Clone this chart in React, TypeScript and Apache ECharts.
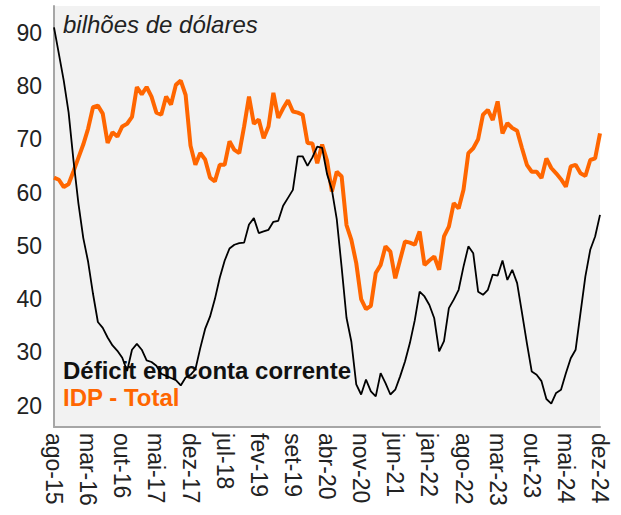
import React, { useEffect, useRef } from "react";
import * as echarts from "echarts";

const monthNames = ["jan", "fev", "mar", "abr", "mai", "jun", "jul", "ago", "set", "out", "nov", "dez"];
const startYear = 2015;
const startMonth = 7; // ago
const monthCount = 113; // ago-15 .. dez-24

const categories: string[] = [];
for (let k = 0; k < monthCount; k++) {
  const m = (startMonth + k) % 12;
  const y = startYear + Math.floor((startMonth + k) / 12);
  categories.push(`${monthNames[m]}-${String(y).slice(2)}`);
}

const deficitConta = [
  91, 86, 81, 75, 66, 58, 51.5, 47, 41, 35.7,
  34.6, 32.8, 31.3, 30.3, 29, 26.5, 30.5, 31.6, 30.5, 28.5,
  28.2, 27.5, 26, 25.6, 25.2, 24.8, 23.8, 25.3, 25.8, 26.8,
  30.8, 34.4, 36.7, 40, 44, 47.2, 49.5, 50.2, 50.5, 50.6,
  54, 55.2, 52.4, 52.7, 53, 54.5, 54.7, 57.5, 59, 60.5,
  66.8, 66.8, 65, 66.6, 68.6, 68.4, 63.5, 60.5, 55, 46,
  36.5, 32, 24, 22.1, 24.9, 22.7, 21.75, 26.1, 24.25, 22.1,
  23, 25.5, 28.3, 31.75, 36, 41.4, 40.5, 38.9, 36.4, 30.2,
  32.1, 38.3, 39.9, 41.75, 46.1, 49.9, 48.6, 41.4, 40.8, 41.75,
  44.6, 44.4, 47.25, 43.6, 45.5, 43, 37.4, 31.75, 26.4, 25.8,
  24.6, 21.25, 20.4, 22.4, 23, 26.1, 28.9, 30.5, 37.4, 44.25,
  49.25, 51.75, 55.8,
];

const idpTotal = [
  62.8, 62.4, 61, 61.6, 64, 66.5, 69, 72, 76, 76.3,
  74.8, 69.3, 71.3, 70.5, 72.4, 72.9, 74.2, 79.8, 78.4, 79.8,
  78, 75, 74.6, 78, 76.5, 80.2, 81, 78.3, 68.8, 65.2,
  67.4, 66.2, 62.8, 62.1, 65.2, 65.2, 69.6, 68, 67.4, 72.4,
  78, 72.9, 73.7, 70.2, 72.4, 78.7, 74, 75.8, 77.3, 75.2,
  75, 74.6, 69.3, 69.2, 65.5, 69, 66, 60.2, 63.9, 63,
  53.9, 51.1, 46.75, 40, 38.1, 38.75, 44.9, 46.4, 49.9, 48.9,
  43.9, 47.4, 50.8, 50.6, 50.2, 52.7, 46.4, 47.25, 48, 45.5,
  51.75, 53.6, 58, 57, 60.5, 67.4, 68.3, 70, 74.6, 75.5,
  73.6, 77.1, 71.1, 73, 72.1, 71.6, 68.3, 65.2, 63.9, 63.9,
  62.7, 66.4, 64.6, 63.6, 62.5, 61.1, 64.9, 65.2, 63.6, 63.1,
  66.1, 66.4, 71.1,
];

const yTickValues = [20, 30, 40, 50, 60, 70, 80, 90];

const FONT = "'Liberation Sans', Arial, Helvetica, sans-serif";

export default function App() {
  const ref = useRef<HTMLDivElement>(null);

  useEffect(() => {
    if (!ref.current) return;
    const chart = echarts.init(ref.current, undefined, { renderer: "svg" });
    chart.setOption({
      animation: false,
      backgroundColor: "#ffffff",
      grid: {
        left: 54,
        right: 21,
        top: 6,
        bottom: 88,
        show: true,
        backgroundColor: "#f2f2f2",
        borderWidth: 0,
        containLabel: false,
      },
      xAxis: {
        type: "category",
        data: categories,
        boundaryGap: false,
        axisLine: { show: true, lineStyle: { color: "#a6a6a6", width: 2 } },
        axisTick: { show: false },
        splitLine: { show: false },
        axisLabel: {
          interval: 6,
          rotate: -90,
          margin: 6,
          fontSize: 23,
          fontFamily: FONT,
          color: "#222222",
        },
      },
      yAxis: {
        type: "value",
        min: 16,
        max: 95,
        axisLine: { show: true, lineStyle: { color: "#a6a6a6", width: 2 } },
        axisTick: { show: false },
        splitLine: { show: false },
        axisLabel: {
          customValues: yTickValues,
          margin: 12,
          fontSize: 23,
          fontFamily: FONT,
          color: "#222222",
        },
      },
      graphic: [
        {
          type: "text",
          left: 63,
          top: 12,
          z: 1,
          style: {
            text: "bilhões de dólares",
            font: `italic 24px ${FONT}`,
            fill: "#222222",
          },
        },
        {
          type: "text",
          left: 63,
          top: 358,
          z: 1,
          style: {
            text: "Déficit em conta corrente",
            font: `bold 24px ${FONT}`,
            fill: "#111111",
          },
        },
        {
          type: "text",
          left: 63,
          top: 385,
          z: 1,
          style: {
            text: "IDP - Total",
            font: `bold 24px ${FONT}`,
            fill: "#ff6600",
          },
        },
      ],
      series: [
        {
          name: "IDP - Total",
          type: "line",
          data: idpTotal,
          symbol: "none",
          lineStyle: { color: "#ff6600", width: 4 },
          z: 3,
        },
        {
          name: "Déficit em conta corrente",
          type: "line",
          data: deficitConta,
          symbol: "none",
          lineStyle: { color: "#000000", width: 1.8 },
          z: 4,
        },
      ],
    });
    return () => chart.dispose();
  }, []);

  return (
    <div
      ref={ref}
      style={{ position: "fixed", left: 0, top: 0, width: 621, height: 515 }}
    />
  );
}
